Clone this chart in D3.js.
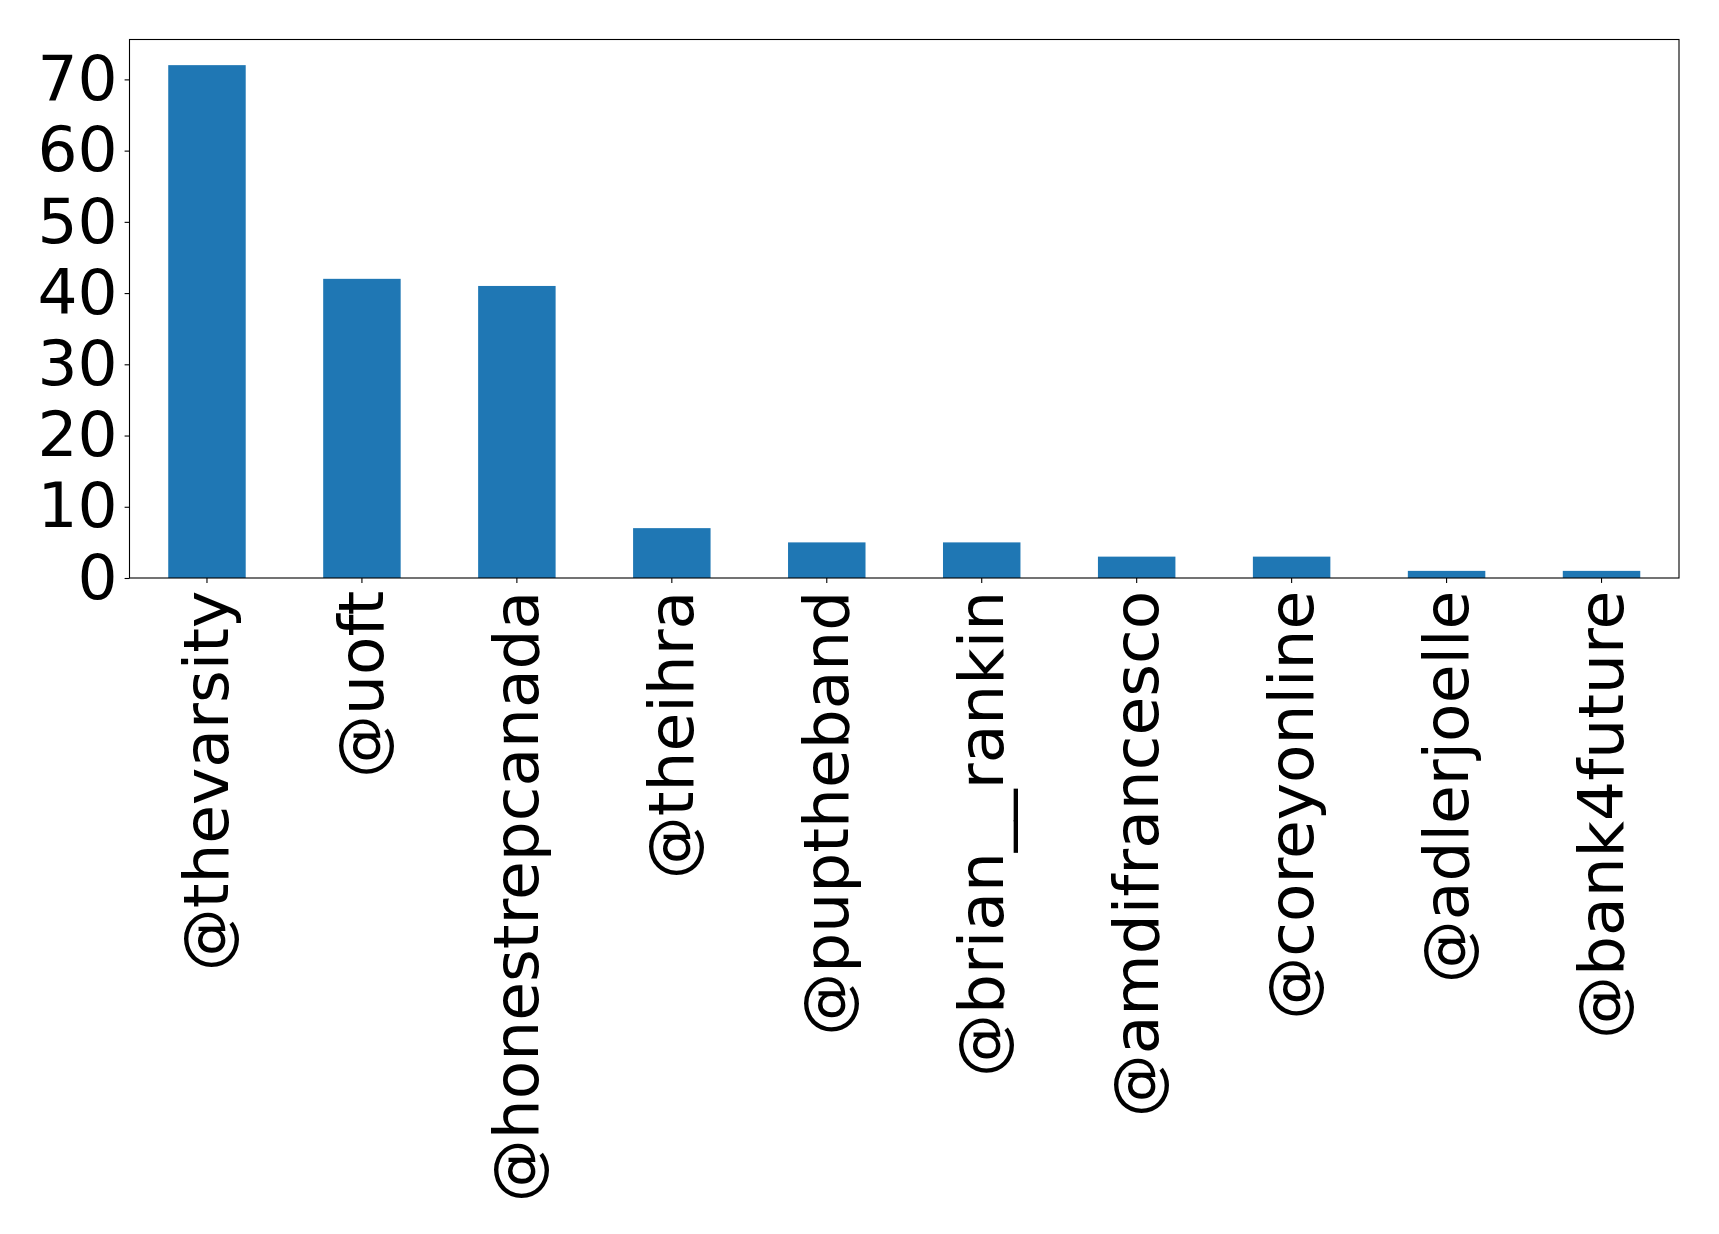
<!DOCTYPE html>
<html>
<head>
<meta charset="utf-8">
<script src="https://cdnjs.cloudflare.com/ajax/libs/d3/7.8.5/d3.min.js"></script>
<style>
  body { margin: 0; background: #fff; }
  svg { display: block; font-family: "DejaVu Sans", sans-serif; }
</style>
</head>
<body>
<svg id="canvas"></svg>
<script>
const handles = ["@thevarsity", "@uoft", "@honestrepcanada", "@theihra", "@puptheband",
                 "@brian__rankin", "@amdifrancesco", "@coreyonline", "@adlerjoelle", "@bank4future"]
const counts = [72, 42, 41, 7, 5, 5, 3, 3, 1, 1]
const yTicks = [0, 10, 20, 30, 40, 50, 60, 70]

const width = 1719
const height = 1234
const margin = { top: 39.5, right: 40, bottom: 656, left: 129.5 }
const plotW = 1679 - margin.left
const plotH = 578 - margin.top
const fontSize = 63
const tickLen = 4.9
const tickPad = 4.9

let svg = d3.select("#canvas")
    .attr("width", width)
    .attr("height", height)

let g = svg.append("g")
    .attr("transform", "translate(" + margin.left + "," + margin.top + ")")

// matplotlib style: 5% headroom above the tallest bar, bar width 0.5
const yScale = d3.scaleLinear()
    .domain([0, d3.max(counts) * 1.05])
    .range([plotH, 0])

const xScale = d3.scaleBand()
    .domain(handles)
    .range([0, plotW])
    .paddingInner(0.5)
    .paddingOuter(0.25)

g.selectAll("rect.bar")
    .data(counts)
    .enter()
    .append("rect")
    .attr("class", "bar")
    .attr("x", (d, i) => xScale(handles[i]))
    .attr("y", d => yScale(d))
    .attr("width", xScale.bandwidth())
    .attr("height", d => plotH - yScale(d))
    .attr("fill", "#1f77b4")

// y axis
let yAxis = d3.axisLeft(yScale)
    .tickValues(yTicks)
    .tickSize(tickLen)
    .tickPadding(tickPad + 2)
    .tickFormat(d3.format("d"))

let yG = g.append("g").call(yAxis)
yG.select(".domain").remove()
yG.selectAll("line").attr("stroke", "#000").attr("stroke-width", 1.1)
yG.selectAll("text")
    .attr("fill", "#000")
    .style("font-size", fontSize + "px")
    .style("font-family", "DejaVu Sans")

// x axis
let xAxis = d3.axisBottom(xScale)
    .tickSize(tickLen)
    .tickPadding(tickPad)

let xG = g.append("g")
    .attr("transform", "translate(0," + plotH + ")")
    .call(xAxis)
xG.select(".domain").remove()
xG.selectAll("line").attr("stroke", "#000").attr("stroke-width", 1.1)
xG.selectAll("text")
    .attr("fill", "#000")
    .attr("y", 0)
    .attr("x", 0)
    .attr("dy", null)
    .attr("transform", "translate(0," + (tickLen + tickPad + 3) + ") rotate(-90)")
    .attr("text-anchor", "end")
    .attr("dominant-baseline", "central")
    .style("font-size", fontSize + "px")
    .style("font-family", "DejaVu Sans")

// frame
g.append("rect")
    .attr("x", 0)
    .attr("y", 0)
    .attr("width", plotW)
    .attr("height", plotH)
    .attr("fill", "none")
    .attr("stroke", "#000")
    .attr("stroke-width", 1.1)
</script>
</body>
</html>
